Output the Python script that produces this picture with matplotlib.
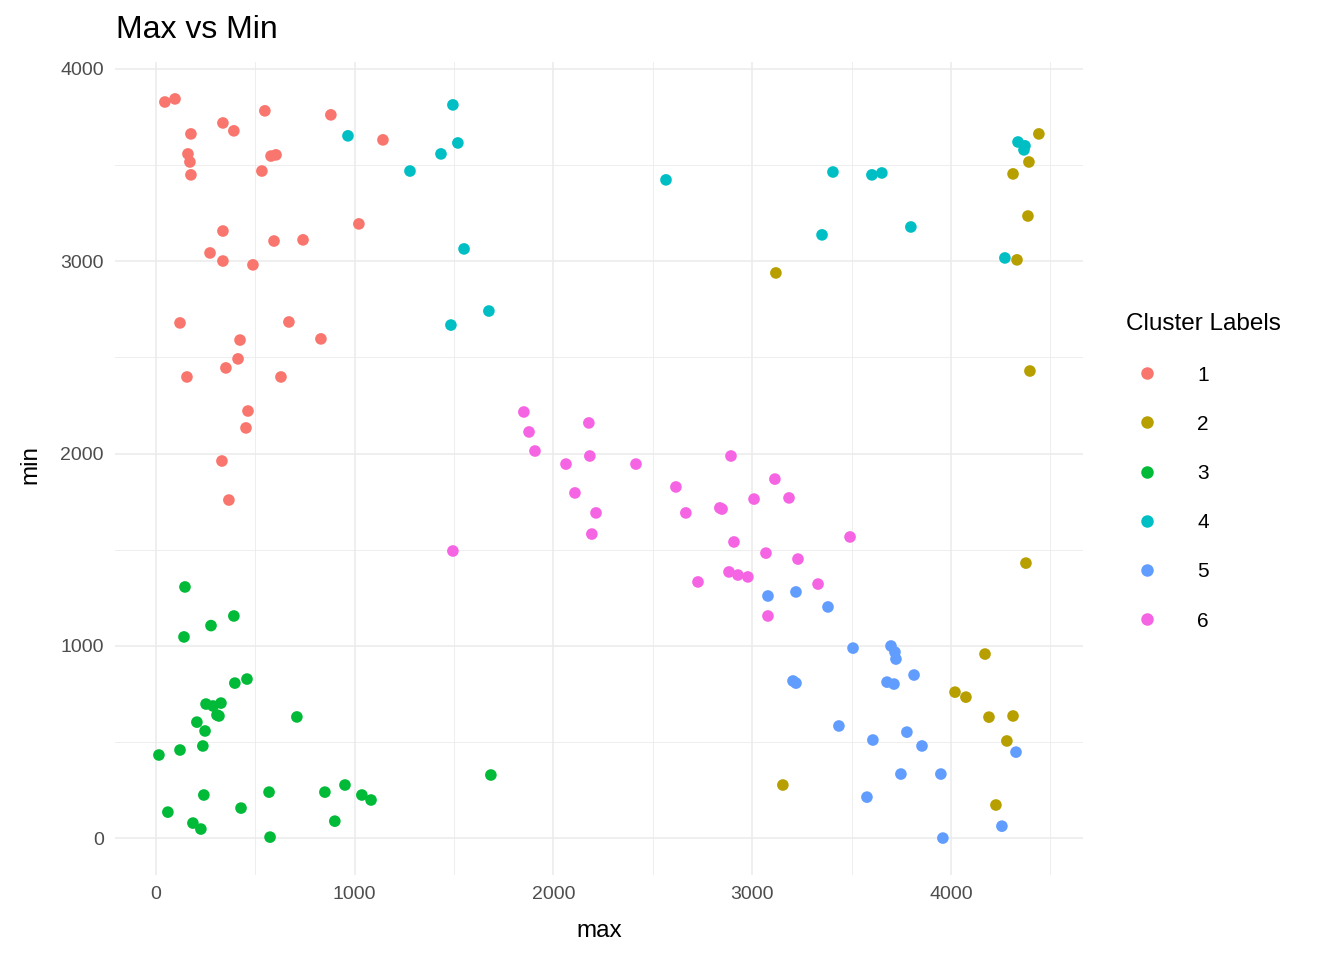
import matplotlib
matplotlib.use("Agg")
import matplotlib.pyplot as plt
from matplotlib.lines import Line2D

plt.rcParams['font.family'] = ['Liberation Sans', 'DejaVu Sans']

c1_x = [45,96,176,161,171,176,337,392,548,533,579,604,880,1142,337,337,272,488,594,740,1021,121,156,423,413,352,629,669,830,463,453,332,367]
c1_y = [3828,3844,3662,3558,3516,3449,3719,3678,3782,3469,3547,3553,3761,3631,3157,3001,3043,2981,3105,3111,3194,2679,2398,2590,2492,2445,2398,2684,2596,2221,2133,1961,1758]
c2_x = [4442,4392,4312,4387,4332,3119,4397,4377,4171,4020,4075,4191,4312,4281,4226,3154]
c2_y = [3662,3516,3454,3235,3007,2939,2429,1430,957,759,733,629,635,505,172,276]
c3_x = [15,60,121,146,141,186,226,277,206,241,236,247,252,287,307,317,327,392,397,458,574,569,428,709,850,900,951,1036,1082,1685]
c3_y = [432,135,458,1306,1046,78,47,1105,603,224,479,557,697,687,640,635,702,1155,806,827,5,239,156,630,239,88,276,224,198,328]
c4_x = [966,1494,1519,1434,1278,1550,1484,1675,2566,3351,3406,3602,3652,3798,4271,4337,4372,4367]
c4_y = [3652,3813,3615,3558,3469,3064,2668,2741,3423,3137,3464,3449,3459,3178,3017,3620,3600,3579]
c5_x = [3079,3220,3381,3205,3220,3507,3698,3718,3723,3678,3713,3814,3436,3607,3778,3854,3577,3748,3949,3959,4256,4327]
c5_y = [1259,1280,1202,817,806,988,999,967,931,811,801,848,583,510,551,479,213,333,333,0,62,447]
c6_x = [1851,1877,1907,2178,2183,2063,2108,2214,2193,2415,2616,2666,2727,2893,2837,2848,2908,2883,2928,2978,3009,3114,3185,3069,3230,3079,3331,3492,1494]
c6_y = [2216,2112,2013,2159,1987,1945,1795,1691,1581,1945,1826,1691,1332,1987,1717,1711,1540,1384,1368,1358,1763,1867,1769,1482,1451,1155,1321,1566,1493]

labels = ['1', '2', '3', '4', '5', '6']
colors = ['#F8766D', '#B79F00', '#00BA38', '#00BFC4', '#619CFF', '#F564E3']
xs = [c1_x, c2_x, c3_x, c4_x, c5_x, c6_x]
ys = [c1_y, c2_y, c3_y, c4_y, c5_y, c6_y]

fig = plt.figure(figsize=(13.44, 9.6), dpi=100)
ax = fig.add_axes([115/1344, 1-875/960, (1083-115)/1344, (875-62)/960])
for x, y, c in zip(xs, ys, colors):
    ax.scatter(x, y, s=70, color=c, edgecolors='none', zorder=3)

ax.set_xlim(-206, 4664)
ax.set_ylim(-192, 4036)
ax.set_xticks([0, 1000, 2000, 3000, 4000])
ax.set_yticks([0, 1000, 2000, 3000, 4000])
ax.set_xticks([500, 1500, 2500, 3500, 4500], minor=True)
ax.set_yticks([500, 1500, 2500, 3500], minor=True)
ax.grid(True, which='major', color='#EBEBEB', linewidth=1.1)
ax.grid(True, which='minor', color='#EBEBEB', linewidth=0.6)
ax.set_axisbelow(True)
for s in ax.spines.values():
    s.set_visible(False)
ax.tick_params(which='both', length=0, labelsize=14, labelcolor='#4D4D4D')
ax.tick_params(axis='x', pad=8)
ax.tick_params(axis='y', pad=8)

fig.text(116/1344, 1-30/960, 'Max vs Min', fontsize=23, va='center', ha='left')
fig.text(599/1344, 1-931/960, 'max', fontsize=17.5, va='center', ha='center')
fig.text(30/1344, 1-465/960, 'min', fontsize=17.5, va='center', ha='center', rotation=90)

handles = [Line2D([], [], marker='o', linestyle='none', markersize=9, color=c, markeredgewidth=0) for c in colors]
leg = fig.legend(handles, labels, title='Cluster Labels', loc='upper left',
                 bbox_to_anchor=(1118/1344, 1-305/960), frameon=False,
                 fontsize=15, title_fontsize=17.5, labelspacing=1.45,
                 handletextpad=1.4, borderaxespad=0)
leg._legend_box.align = 'left'

fig.savefig('out.png', dpi=100)
